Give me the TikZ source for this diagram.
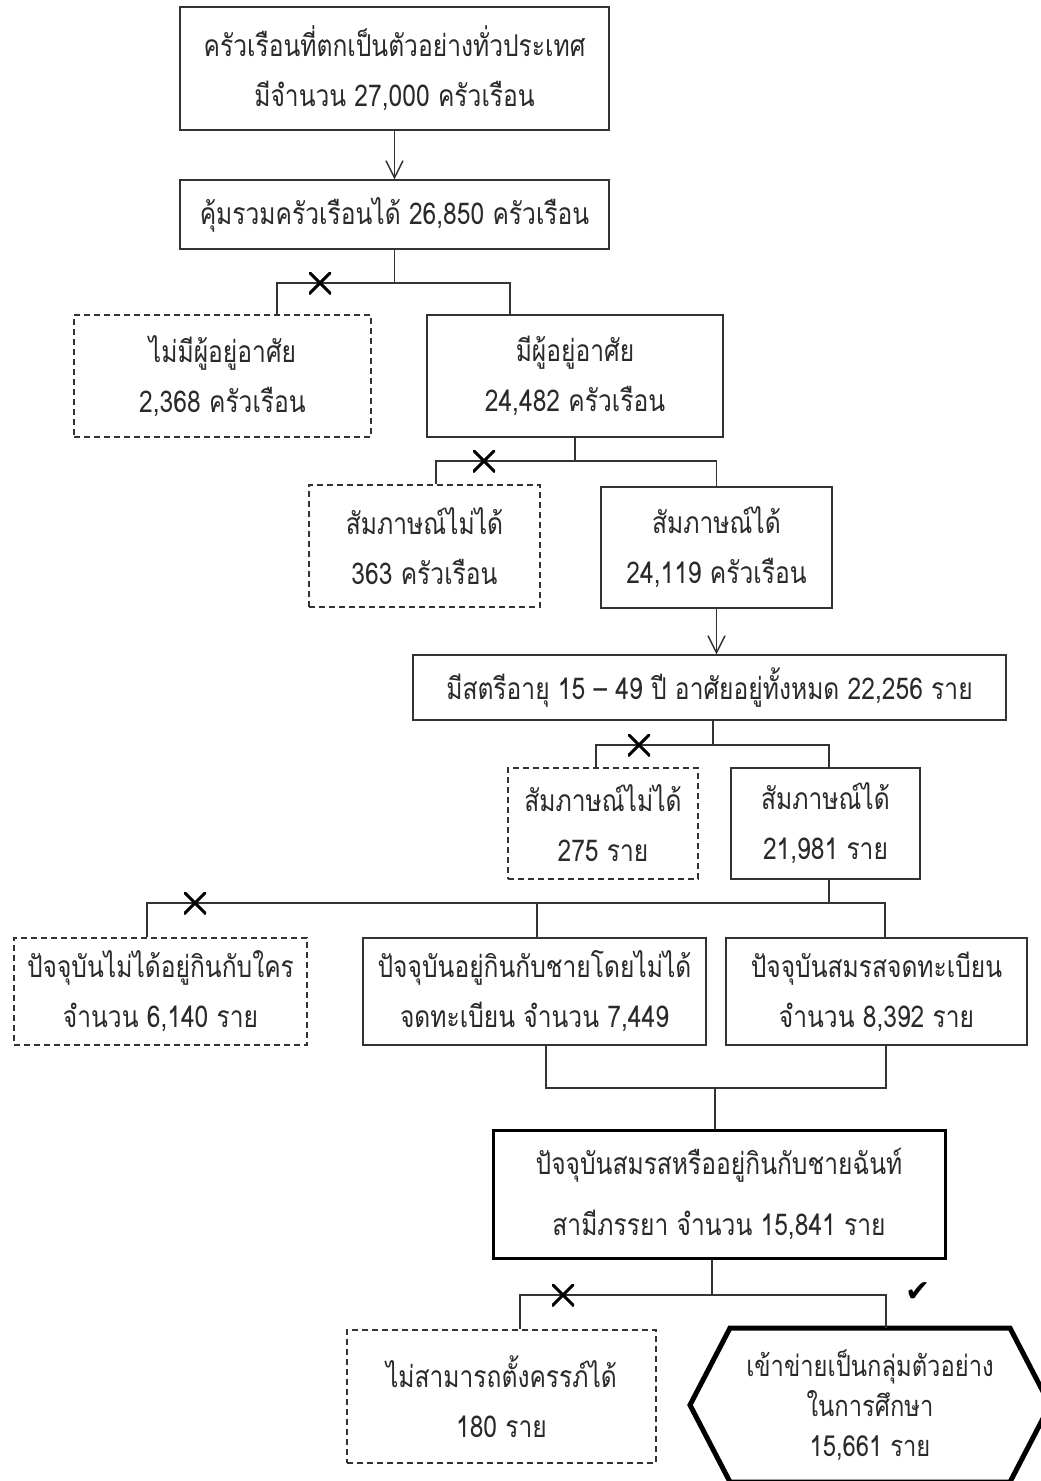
\documentclass[tikz,border=0pt]{standalone}
\usepackage{fontspec}
\usetikzlibrary{arrows.meta}
\newfontfamily\thaifont[Script=Thai,FakeStretch=0.82]{Loma}
\newfontfamily\symfont{DejaVu Sans}
\definecolor{ink}{HTML}{2A2A2A}
\definecolor{lineclr}{HTML}{333333}
\tikzset{
  box/.style={draw=lineclr, line width=1.4pt, rectangle, align=center, inner sep=0pt,
    text=ink, font=\thaifont\fontsize{30}{50}\selectfont},
  dbox/.style={box, dash pattern=on 6pt off 4pt},
  tbox/.style={box, line width=3pt, draw=black},
  conn/.style={draw=lineclr, line width=1.4pt},
  arr/.style={conn, -{Straight Barb[length=17pt,width=17pt,line width=1.4pt]}},
  xmk/.style={minimum size=22pt, inner sep=0pt,
    path picture={\draw[line width=3pt, black]
      (path picture bounding box.north west) -- (path picture bounding box.south east)
      (path picture bounding box.north east) -- (path picture bounding box.south west);}},
  hexline/.style={draw=black, line width=5pt, line join=miter},
}
\begin{document}
\begin{tikzpicture}[x=1pt,y=-1pt]
\useasboundingbox[fill=white] (0,0) rectangle (1041,1481);

\node[box, minimum width=429pt, minimum height=123pt] (b1) at (394.5,68.5)
  {ครัวเรือนที่ตกเป็นตัวอย่างทั่วประเทศ\\มีจำนวน 27,000 ครัวเรือน};
\node[box, minimum width=429pt, minimum height=69pt] (b2) at (394.5,214.5)
  {คุ้มรวมครัวเรือนได้ 26,850 ครัวเรือน};
\node[dbox, minimum width=297pt, minimum height=122pt] (b3) at (222.5,376)
  {ไม่มีผู้อยู่อาศัย\\2,368 ครัวเรือน};
\node[box, minimum width=296pt, minimum height=122pt] (b4) at (575,376)
  {มีผู้อยู่อาศัย\\24,482 ครัวเรือน};
\node[dbox, minimum width=231pt, minimum height=122pt] (b5) at (424.5,546)
  {สัมภาษณ์ไม่ได้\\363 ครัวเรือน};
\node[box, minimum width=231pt, minimum height=121pt] (b6) at (716.5,547.5)
  {สัมภาษณ์ได้\\24,119 ครัวเรือน};
\node[box, minimum width=593pt, minimum height=65pt] (b7) at (709.5,687.5)
  {มีสตรีอายุ 15 – 49 ปี อาศัยอยู่ทั้งหมด 22,256 ราย};
\node[dbox, minimum width=190pt, minimum height=111pt] (b8) at (603,823.5)
  {สัมภาษณ์ไม่ได้\\275 ราย};
\node[box, minimum width=189pt, minimum height=111pt] (b9) at (825.5,823.5)
  {สัมภาษณ์ได้\\21,981 ราย};
\node[dbox, minimum width=293pt, minimum height=107pt] (b10) at (160.5,991.5)
  {ปัจจุบันไม่ได้อยู่กินกับใคร\\จำนวน 6,140 ราย};
\node[box, minimum width=343pt, minimum height=107pt] (b11) at (534.5,991.5)
  {ปัจจุบันอยู่กินกับชายโดยไม่ได้\\จดทะเบียน จำนวน 7,449};
\node[box, minimum width=301pt, minimum height=107pt] (b12) at (876.5,991.5)
  {ปัจจุบันสมรสจดทะเบียน\\จำนวน 8,392 ราย};
\node[tbox, minimum width=452pt, minimum height=128pt, font=\thaifont\fontsize{30}{61}\selectfont] (b13) at (719,1194)
  {ปัจจุบันสมรสหรืออยู่กินกับชายฉันท์\\สามีภรรยา จำนวน 15,841 ราย};
\node[dbox, minimum width=309pt, minimum height=133pt] (b14) at (501.5,1396.5)
  {ไม่สามารถตั้งครรภ์ได้\\180 ราย};
\node[align=center, inner sep=0pt, text=ink, font=\thaifont\fontsize{29}{40}\selectfont] (hx) at (870,1405)
  {เข้าข่ายเป็นกลุ่มตัวอย่าง\\ในการศึกษา\\15,661 ราย};
\draw[hexline] ([xshift=-180pt]hx.center) -- ([xshift=-140pt,yshift=77pt]hx.center)
  -- ([xshift=140pt,yshift=77pt]hx.center) -- ([xshift=180pt]hx.center)
  -- ([xshift=140pt,yshift=-77pt]hx.center) -- ([xshift=-140pt,yshift=-77pt]hx.center) -- cycle;
\coordinate (hxtop) at ([xshift=16pt,yshift=77pt]hx.center);

% connectors
\draw[arr] (b1) -- (b2);

\coordinate (j1) at (394.5,283);
\draw[conn] (b2.south) -- (j1);
\draw[conn] ([xshift=54.5pt]b3.north) |- (j1) -| ([xshift=-65pt]b4.north);
\node[xmk] (x1) at (320,283) {};

\coordinate (j2) at (575,461);
\draw[conn] (b4.south) -- (j2);
\draw[conn] ([xshift=11.5pt]b5.north) |- (j2) -| (b6.north);
\node[xmk] (x2) at (484,461) {};

\draw[arr] (b6.south) -- (b6.south |- b7.north);

\coordinate (j3) at (713,745);
\draw[conn] (b7.south -| j3) -- (j3);
\draw[conn] ([xshift=-7pt]b8.north) |- (j3) -| ([xshift=3.5pt]b9.north);
\node[xmk] (x3) at (639,745) {};

\coordinate (j4) at (829,903);
\draw[conn] ([xshift=3.5pt]b9.south) -- (j4);
\draw[conn] ([xshift=-13.5pt]b10.north) |- (j4) -| ([xshift=8.5pt]b12.north);
\draw[conn] ([xshift=2.5pt]b11.north) -- ([xshift=2.5pt]b11.north |- j4);
\node[xmk] (x4) at (195,903) {};

\coordinate (j5) at (715,1088);
\draw[conn] ([xshift=11.5pt]b11.south) |- (j5) -| ([xshift=9.5pt]b12.south);
\draw[conn] (j5) -- (j5 |- b13.north);

\coordinate (j6) at (712,1295);
\draw[conn] (b13.south -| j6) -- (j6);
\draw[conn] ([xshift=18.5pt]b14.north) |- (j6) -| (hxtop);
\node[xmk] (x5) at (563,1295) {};
\node[font=\symfont\fontsize{30}{30}\selectfont, inner sep=0pt] (ck) at (918,1292) {✔};
\end{tikzpicture}
\end{document}
